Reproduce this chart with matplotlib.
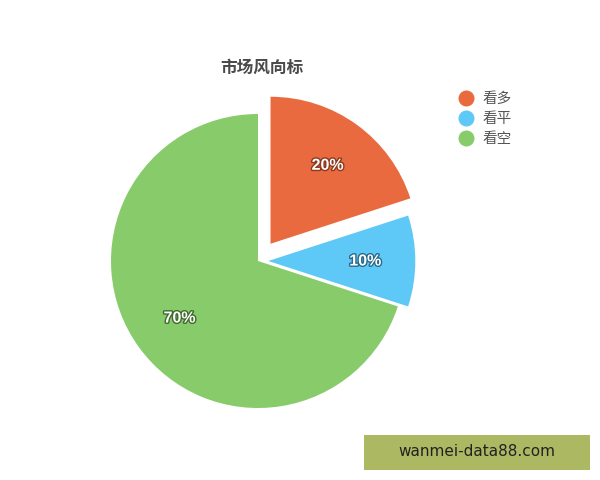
import matplotlib
matplotlib.use("Agg")
import matplotlib.pyplot as plt
import matplotlib.patheffects as pe
from matplotlib.lines import Line2D
from matplotlib.patches import Rectangle

plt.rcParams['font.family'] = ['Noto Sans CJK SC', 'DejaVu Sans']

title = "市场风向标"
categories = ["看多", "看平", "看空"]
values = [20, 10, 70]
colors = ["#E96A3E", "#5EC8F6", "#88CB6A"]
shadow_colors = ["#8A3A1E", "#2A6A8A", "#3E6A2E"]
explode = [0.145, 0.07, 0.0]
watermark = "wanmei-data88.com"

W, H = 600, 480
fig = plt.figure(figsize=(6, 4.8), dpi=100)
fig.patch.set_facecolor("white")

cx, cy, r = 258, 261, 147
ax = fig.add_axes([(cx - r) / W, (H - cy - r) / H, 2 * r / W, 2 * r / H])
wedges, texts, autotexts = ax.pie(
    values, colors=colors, explode=explode, startangle=90, counterclock=False,
    autopct=lambda p: f"{p:.0f}%", pctdistance=0.66,
    wedgeprops=dict(linewidth=0),
    textprops=dict(color="white", fontsize=11.5, fontweight="bold",
                   family=["Liberation Sans", "DejaVu Sans"]),
)
for t, sc in zip(autotexts, shadow_colors):
    t.set_path_effects([pe.withStroke(linewidth=2, foreground=sc)])
ax.set_xlim(-1, 1)
ax.set_ylim(-1, 1)
ax.set_aspect("equal")
ax.axis("off")

fig.text(262 / W, 1 - 68 / H, title, ha="center", va="center",
         fontsize=12, fontweight="bold", color="#4a4a4a")

handles = [Line2D([0], [0], marker="o", linestyle="none", markersize=10.5,
                  markerfacecolor=c, markeredgecolor=c) for c in colors]
fig.legend(handles, categories, loc="upper left",
           bbox_to_anchor=(451 / W, 1 - 86 / H), frameon=False,
           fontsize=10.5, labelcolor="#555555", handletextpad=0.55,
           labelspacing=0.42, borderaxespad=0, handlelength=1.2)

fig.patches.append(Rectangle((364 / W, 1 - 470 / H), 226 / W, 35 / H,
                             transform=fig.transFigure, facecolor="#ADB862",
                             edgecolor="none"))
fig.text(477 / W, 1 - 452 / H, watermark, ha="center", va="center",
         fontsize=11, color="#222222", family=["DejaVu Sans"])

fig.savefig("out.png", dpi=100)
